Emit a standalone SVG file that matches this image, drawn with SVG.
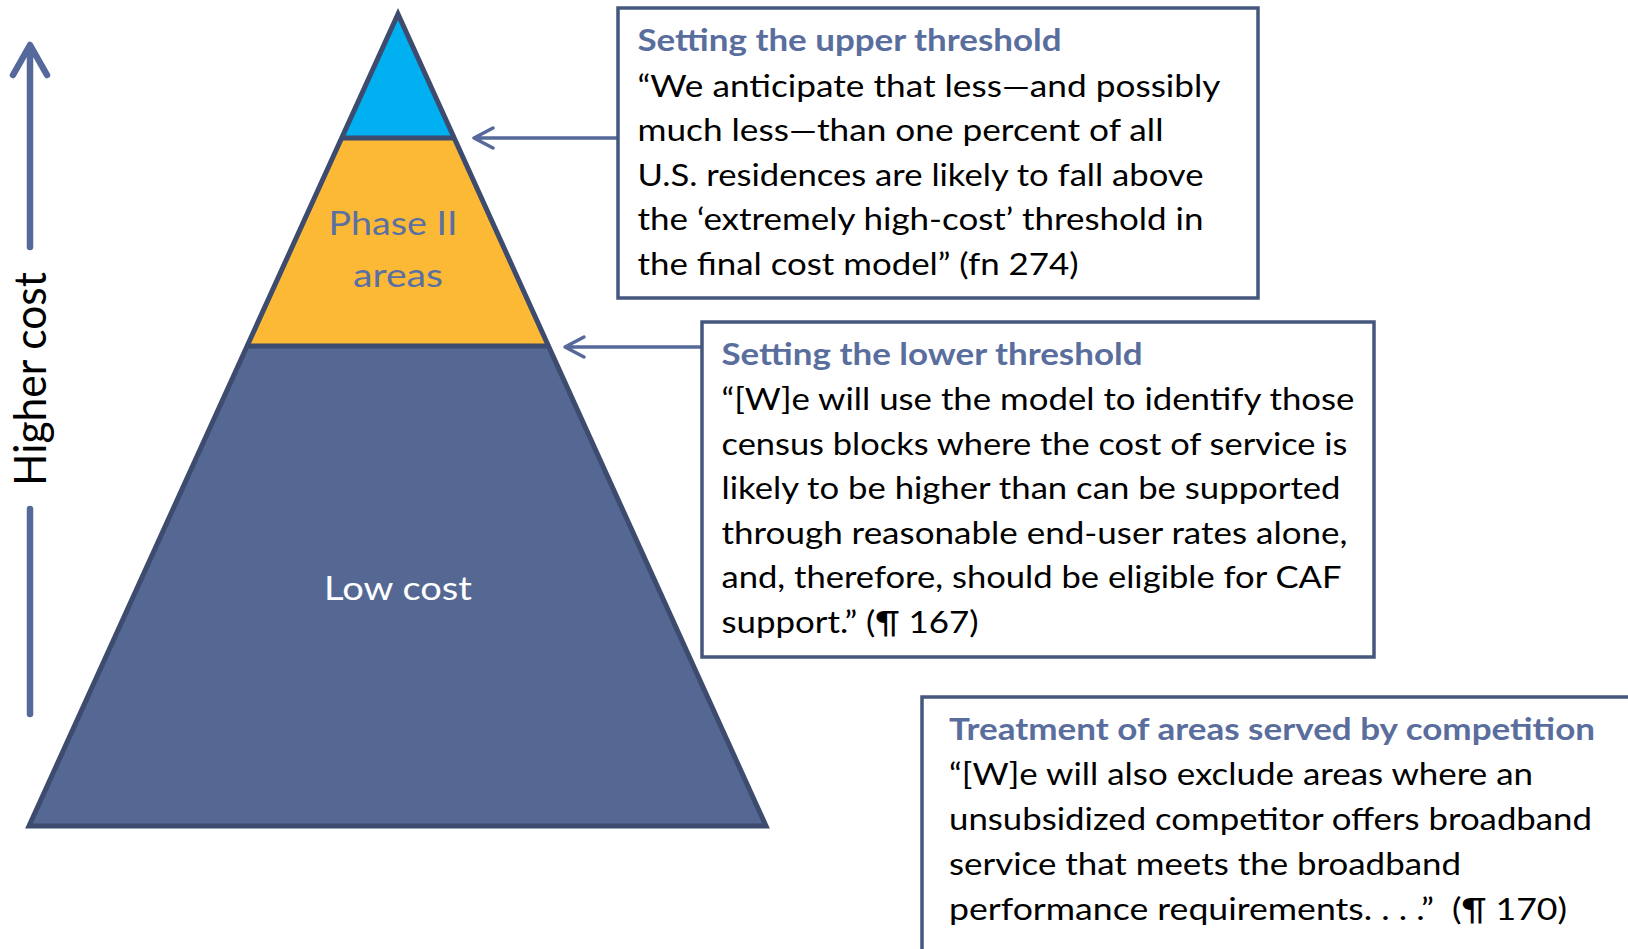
<svg xmlns="http://www.w3.org/2000/svg" width="1628" height="949" viewBox="0 0 1628 949">
  <defs>
    <style>
      .body { font-family: Lato, "Liberation Sans", sans-serif; font-size: 30px; fill: #000000; }
      .head { font-family: Lato, "Liberation Sans", sans-serif; font-size: 30px; font-weight: bold; fill: #5A6E9E; }
      .box { fill: #FFFFFF; stroke: #46577E; stroke-width: 3.5; }
      .band-line { stroke: #3D4B6E; stroke-width: 5; }
      .conn { fill: none; stroke: #56699A; stroke-width: 3.5; stroke-linecap: round; stroke-linejoin: round; }
      .axis { fill: none; stroke: #55699A; stroke-width: 6.5; stroke-linecap: round; stroke-linejoin: round; }
      .tier { font-family: Lato, "Liberation Sans", sans-serif; font-size: 33px; text-anchor: middle; }
    </style>
  </defs>

  <rect width="1628" height="949" fill="#FFFFFF"/>

  <!-- Cost axis: arrow pointing up, label in the gap -->
  <g id="cost-axis">
    <path class="axis" d="M30 247 V46 M13 75 L30 45 L47 75"/>
    <line class="axis" x1="30" y1="509" x2="30" y2="714" stroke-linecap="butt"/>
    <text transform="translate(46 379) rotate(-90)" font-family="Lato, 'Liberation Sans', sans-serif" font-size="45" fill="#000000" text-anchor="middle" textLength="214" lengthAdjust="spacingAndGlyphs">Higher cost</text>
  </g>

  <!-- Cost pyramid -->
  <g id="pyramid">
    <polygon points="398,14 454.2,138 341.6,138" fill="#00B0F0"/>
    <polygon points="341.6,138 454.2,138 548.5,346 247,346" fill="#FBB935"/>
    <polygon points="247,346 548.5,346 766,826 29,826" fill="#546893"/>
    <line class="band-line" x1="341.6" y1="138" x2="454.2" y2="138"/>
    <line class="band-line" x1="247" y1="346" x2="548.5" y2="346"/>
    <polygon points="398,14 766,826 29,826" fill="none" stroke="#3D4B6E" stroke-width="5"/>
  </g>

  <g id="tier-phase2">
    <text class="tier" x="393" y="235" fill="#5A70A3" textLength="129" lengthAdjust="spacingAndGlyphs">Phase II</text>
    <text class="tier" x="398" y="287" fill="#5A70A3" textLength="90" lengthAdjust="spacingAndGlyphs">areas</text>
  </g>

  <g id="tier-low">
    <text class="tier" x="398" y="600" fill="#FFFFFF" textLength="148" lengthAdjust="spacingAndGlyphs">Low cost</text>
  </g>

  <!-- Connectors from the note boxes to the threshold lines -->
  <g id="connectors">
    <path class="conn" d="M618 138 H475 M493 128 L474 138 L493 148"/>
    <path class="conn" d="M702 347 H566 M584 337 L565 347 L584 357"/>
  </g>

  <!-- Note: upper threshold -->
  <g id="note-upper">
    <rect class="box" x="618" y="8" width="640" height="290"/>
    <text class="head" x="637.5" y="51" textLength="424" lengthAdjust="spacingAndGlyphs">Setting the upper threshold</text>
    <text class="body" x="637.5" y="96.5" textLength="583" lengthAdjust="spacingAndGlyphs">“We anticipate that less—and possibly</text>
    <text class="body" x="637.5" y="141" textLength="526" lengthAdjust="spacingAndGlyphs">much less—than one percent of all</text>
    <text class="body" x="637.5" y="185.5" textLength="566" lengthAdjust="spacingAndGlyphs">U.S. residences are likely to fall above</text>
    <text class="body" x="637.5" y="230" textLength="566" lengthAdjust="spacingAndGlyphs">the ‘extremely high-cost’ threshold in</text>
    <text class="body" x="637.5" y="275" textLength="441" lengthAdjust="spacingAndGlyphs">the final cost model” (fn 274)</text>
  </g>

  <!-- Note: lower threshold -->
  <g id="note-lower">
    <rect class="box" x="702" y="322" width="672" height="335"/>
    <text class="head" x="721.5" y="365" textLength="421" lengthAdjust="spacingAndGlyphs">Setting the lower threshold</text>
    <text class="body" x="721.5" y="410" textLength="633" lengthAdjust="spacingAndGlyphs">“[W]e will use the model to identify those</text>
    <text class="body" x="721.5" y="455" textLength="626" lengthAdjust="spacingAndGlyphs">census blocks where the cost of service is</text>
    <text class="body" x="721.5" y="499" textLength="619" lengthAdjust="spacingAndGlyphs">likely to be higher than can be supported</text>
    <text class="body" x="721.5" y="543.5" textLength="626" lengthAdjust="spacingAndGlyphs">through reasonable end-user rates alone,</text>
    <text class="body" x="721.5" y="588" textLength="620" lengthAdjust="spacingAndGlyphs">and, therefore, should be eligible for CAF</text>
    <text class="body" x="721.5" y="633" textLength="257" lengthAdjust="spacingAndGlyphs">support.” (¶ 167)</text>
  </g>

  <!-- Note: competition (runs off the right and bottom edges) -->
  <g id="note-competition">
    <rect class="box" x="922" y="697" width="760" height="320"/>
    <text class="head" x="949" y="740" textLength="646" lengthAdjust="spacingAndGlyphs">Treatment of areas served by competition</text>
    <text class="body" x="949" y="785" textLength="584" lengthAdjust="spacingAndGlyphs">“[W]e will also exclude areas where an</text>
    <text class="body" x="949" y="830" textLength="643" lengthAdjust="spacingAndGlyphs">unsubsidized competitor offers broadband</text>
    <text class="body" x="949" y="874.5" textLength="512" lengthAdjust="spacingAndGlyphs">service that meets the broadband</text>
    <text class="body" x="949" y="919.5" textLength="618" lengthAdjust="spacingAndGlyphs" xml:space="preserve">performance requirements. . . .”  (¶ 170)</text>
  </g>
</svg>
